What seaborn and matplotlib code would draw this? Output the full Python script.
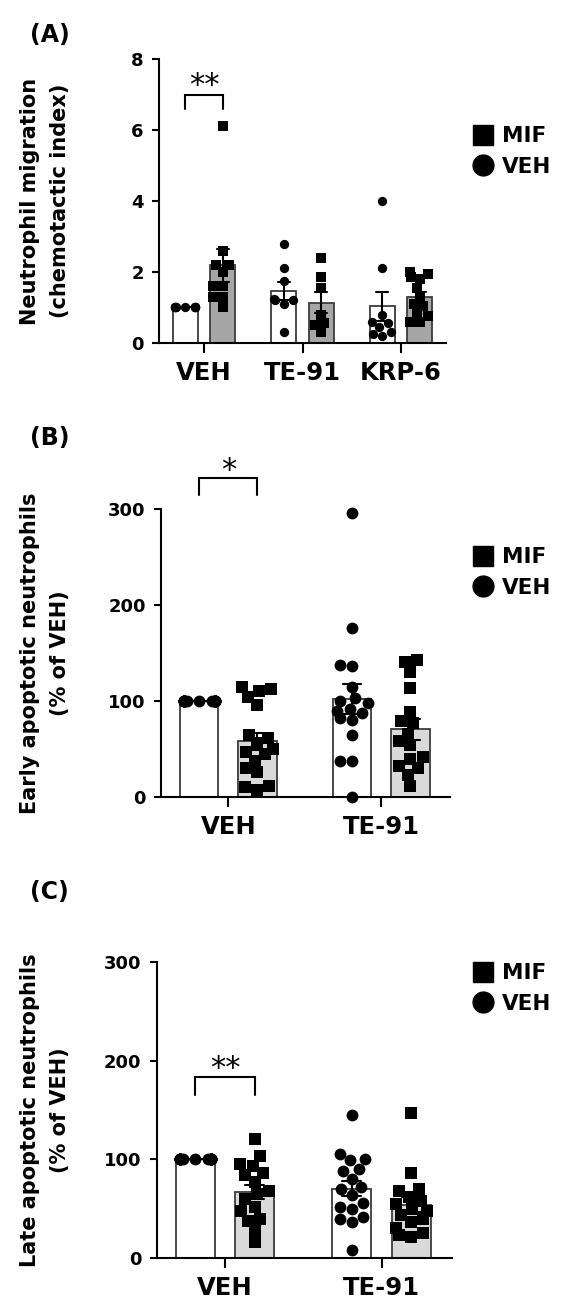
import numpy as np
import pandas as pd
import matplotlib
matplotlib.use("Agg")
import matplotlib.pyplot as plt
import seaborn as sns
from matplotlib.lines import Line2D

# ---------------- data ----------------
treatments = ["VEH", "MIF"]
legend_labels = ["MIF", "VEH"]

# Panel A: neutrophil migration (chemotactic index)
A_groups = ["VEH", "TE-91", "KRP-6"]
A_VEH_veh = [1.0, 1.0, 1.0, 1.0, 1.0, 1.0, 1.0, 1.0, 1.0, 1.0]
A_VEH_mif = [6.1, 2.6, 2.2, 2.2, 2.0, 1.6, 1.6, 1.3, 1.3, 1.0]
A_TE_veh = [2.8, 2.1, 1.75, 1.25, 1.2, 1.2, 1.1, 0.3]
A_TE_mif = [2.4, 1.85, 1.55, 0.8, 0.55, 0.5, 0.3]
A_KRP_veh = [4.0, 2.1, 0.8, 0.6, 0.55, 0.45, 0.3, 0.25, 0.2]
A_KRP_mif = [2.0, 1.95, 1.85, 1.8, 1.55, 1.3, 1.1, 1.05, 0.85, 0.75, 0.6, 0.6]

# Panel B: early apoptotic neutrophils (% of VEH)
B_groups = ["VEH", "TE-91"]
B_VEH_veh = [100, 100, 100, 100, 100, 100, 100, 100, 100, 100, 100, 100, 100, 100, 100, 100, 100]
B_VEH_mif = [115, 113, 110, 104, 96, 65, 62, 56, 50, 47, 45, 38, 30, 26, 12, 10, 7]
B_TE_veh = [296, 176, 138, 136, 115, 103, 100, 98, 92, 90, 88, 82, 80, 65, 38, 38, 0]
B_TE_mif = [143, 141, 130, 114, 89, 79, 77, 66, 58, 54, 42, 40, 32, 30, 23, 11]

# Panel C: late apoptotic neutrophils (% of VEH)
C_groups = ["VEH", "TE-91"]
C_VEH_veh = [100, 100, 100, 100, 100, 100, 100, 100, 100, 100, 100, 100, 100, 100, 100, 100]
C_VEH_mif = [121, 103, 95, 93, 86, 84, 77, 68, 65, 60, 52, 48, 40, 38, 28, 16]
C_TE_veh = [145, 105, 100, 99, 88, 90, 80, 72, 70, 64, 56, 52, 50, 42, 40, 37, 8]
C_TE_mif = [147, 86, 70, 68, 62, 58, 55, 50, 48, 44, 40, 37, 30, 25, 23, 21]

A_ylabel = "Neutrophil migration\n(chemotactic index)"
B_ylabel = "Early apoptotic neutrophils\n(% of VEH)"
C_ylabel = "Late apoptotic neutrophils\n(% of VEH)"
A_yticks = [0, 2, 4, 6, 8]
BC_yticks = [0, 100, 200, 300]
A_sig, B_sig, C_sig = "**", "*", "**"

# ---------------- style ----------------
sns.set_theme(style="ticks")
plt.rcParams.update({
    "font.family": ["DejaVu Sans"],
    "font.weight": "bold",
    "axes.labelweight": "bold",
    "axes.linewidth": 1.5,
    "axes.edgecolor": "black",
    "xtick.major.width": 1.5,
    "ytick.major.width": 1.5,
    "text.color": "black",
    "axes.labelcolor": "black",
    "xtick.color": "black",
    "ytick.color": "black",
    "axes.facecolor": "white",
    "figure.facecolor": "white",
})

SP = 4.0          # spacing between groups on the native x scale
OFF = 0.19 * SP   # offset of each bar from its group centre
BAR_W = 0.25      # bar width relative to group spacing


def make_df(groups, veh_lists, mif_lists):
    rows = []
    for gi, g in enumerate(groups):
        for v in veh_lists[gi]:
            rows.append((g, "VEH", gi * SP - OFF, v))
        for v in mif_lists[gi]:
            rows.append((g, "MIF", gi * SP + OFF, v))
    return pd.DataFrame(rows, columns=["group", "treatment", "pos", "value"])


def draw_panel(fig, rect, df, groups, mif_color, ylim, yticks, xlim, ylabel,
               label_x, msize, sig_text, sig_y, sig_top, sig_leg, legend_y,
               letter, letter_y):
    ax = fig.add_axes(rect)
    for t, col in zip(treatments, ["white", mif_color]):
        sub = df[df.treatment == t]
        sns.barplot(data=sub, x="pos", y="value", native_scale=True,
                    width=BAR_W, color=col, saturation=1,
                    edgecolor="#3c3c3c", linewidth=1.3,
                    errorbar="se", capsize=0.12,
                    err_kws={"color": "black", "linewidth": 1.5}, ax=ax)
    # one swarm per bar: a single native value gives a swarm width of 0.8 units
    for t, mk in zip(treatments, ["o", "s"]):
        for g in groups:
            sub = df[(df.treatment == t) & (df.group == g)]
            sns.swarmplot(data=sub, x="pos", y="value", native_scale=True,
                          marker=mk, color="black", size=msize,
                          linewidth=0, warn_thresh=1.0, ax=ax)
    for c in ax.collections:
        c.set_clip_on(False)

    ax.set_xlim(xlim[0] * SP, xlim[1] * SP)
    ax.set_ylim(ylim)
    ax.set_xticks([gi * SP for gi in range(len(groups))])
    ax.set_xticklabels(groups, fontsize=17.5, fontweight="bold")
    ax.set_yticks(yticks)
    ax.set_yticklabels([str(t) for t in yticks], fontsize=13, fontweight="bold")
    ax.tick_params(axis="x", length=7, width=1.5, pad=6)
    ax.tick_params(axis="y", length=5, width=1.5, pad=6)
    ax.set_xlabel("")
    ax.set_ylabel(ylabel, fontsize=15, fontweight="bold", linespacing=1.6)
    ax.yaxis.set_label_coords(label_x, 0.5)
    sns.despine(ax=ax)

    # significance bracket between the two bars of the first group
    x1, x2 = -OFF, OFF
    ax.plot([x1, x1, x2, x2], [sig_leg, sig_top, sig_top, sig_leg],
            color="black", lw=1.5, clip_on=False, solid_joinstyle="miter")
    ax.annotate(sig_text, xy=(0, sig_y), xytext=(0, -6.5),
                textcoords="offset points", ha="center", va="center",
                fontsize=22, fontweight="normal", annotation_clip=False)

    handles = [Line2D([], [], ls="none", marker=m, color="black", markersize=15)
               for m in ["s", "o"]]
    ax.legend(handles, legend_labels, loc="center left",
              bbox_to_anchor=(474 / 565, legend_y), bbox_transform=fig.transFigure,
              frameon=False, handlelength=0.8, handletextpad=0.5,
              labelspacing=0.5, borderpad=0, borderaxespad=0,
              prop={"weight": "bold", "size": 15.5})

    fig.text(30 / 565, letter_y, letter, ha="left", va="center",
             fontsize=17, fontweight="bold")
    return ax


fig = plt.figure(figsize=(5.65, 13.15), dpi=100)

dfA = make_df(A_groups, [A_VEH_veh, A_TE_veh, A_KRP_veh], [A_VEH_mif, A_TE_mif, A_KRP_mif])
dfB = make_df(B_groups, [B_VEH_veh, B_TE_veh], [B_VEH_mif, B_TE_mif])
dfC = make_df(C_groups, [C_VEH_veh, C_TE_veh], [C_VEH_mif, C_TE_mif])

draw_panel(fig, [0.2814, 0.7392, 0.508, 0.2159], dfA, A_groups, "#a6a6a6",
           (0, 8), A_yticks, (-0.457, 2.457), A_ylabel, -0.31, 6.7,
           A_sig, 7.52, 7.0, 6.6, 0.8848, "(A)", 0.9734)
draw_panel(fig, [0.285, 0.3939, 0.511, 0.219], dfB, B_groups, "#d9d9d9",
           (0, 300), BC_yticks, (-0.44, 1.447), B_ylabel, -0.315, 8.5,
           B_sig, 350, 332, 315, 0.5646, "(B)", 0.6667)
draw_panel(fig, [0.277, 0.0433, 0.523, 0.2251], dfC, C_groups, "#d9d9d9",
           (0, 300), BC_yticks, (-0.437, 1.45), C_ylabel, -0.293, 8.5,
           C_sig, 201, 183, 165, 0.2483, "(C)", 0.3214)

fig.savefig("out.png", dpi=100)
